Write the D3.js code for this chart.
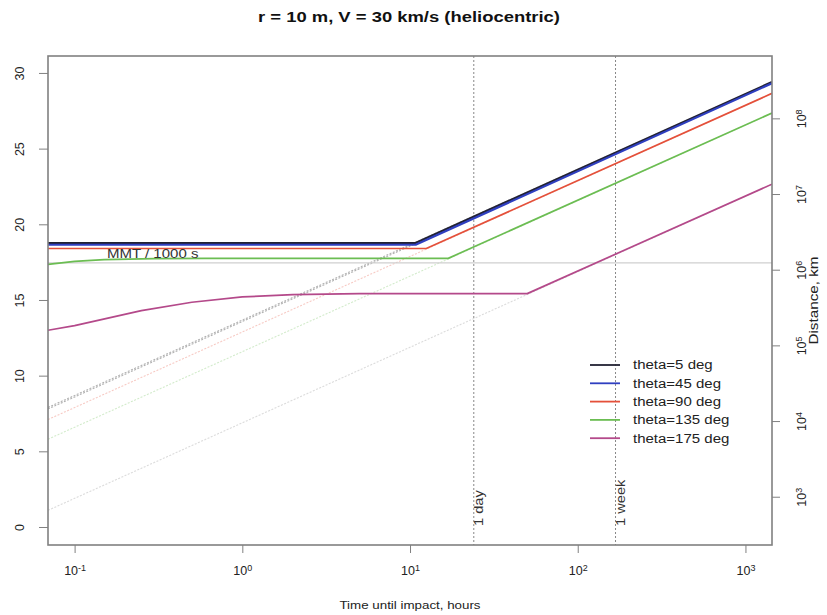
<!DOCTYPE html>
<html>
<head>
<meta charset="utf-8">
<script src="https://cdn.jsdelivr.net/npm/d3@7"></script>
<style>
  body { margin: 0; background: #fff; }
  svg { font-family: "Liberation Sans", Arial, sans-serif; }
</style>
</head>
<body>
<div id="chart"></div>
<script>
//chart values (hours, left axis value)//
var thetaLabels = ["theta=5 deg", "theta=45 deg", "theta=90 deg", "theta=135 deg", "theta=175 deg"];
var theta5 = [[0.0694, 18.75], [10.7, 18.75], [1440, 29.4]];
var theta45 = [[0.0694, 18.65], [10.8, 18.65], [1440, 29.32]];
var theta90 = [[0.0694, 18.4], [12.5, 18.4], [1440, 28.65]];
var theta135 = [[0.0694, 17.35], [0.1, 17.55], [0.15, 17.66], [0.3, 17.73], [0.6, 17.75], [16.9, 17.75], [1440, 27.35]];
var theta175 = [[0.0694, 13.0], [0.1, 13.3], [0.25, 14.3], [0.5, 14.85], [1, 15.2], [2, 15.35], [5, 15.42], [50, 15.42], [1440, 22.65]];
//faint straight-line extrapolations, value at left and right edge//
var farLeft = [7.9, 7.8, 7.1, 5.8, 1.1];
var farRight = [29.4, 29.32, 28.65, 27.35, 22.65];
var xRange = [0.0694, 1440];
var mmtValue = 17.45;
var markerHours = [24, 168];
var markerLabels = ["1 day", "1 week"];
var xTicks = [0.1, 1, 10, 100, 1000];
var yTicks = [0, 5, 10, 15, 20, 25, 30];
var distTicks = [1e3, 1e4, 1e5, 1e6, 1e7, 1e8];
var magOffset = 13; //left value = 5*log10(km) - 13//

var series = [theta5, theta45, theta90, theta135, theta175];
var colors = ["#222233", "#2f3fc0", "#e4503a", "#6bbd52", "#b4498a"];

//svg element parameters//
var w = 827;
var h = 615;
var pLeft = 48, pRight = 772, pTop = 56, pBottom = 545;

//the reference text is a bit wider than the font, so stretch it//
function stretch(sel, k) {
  sel.each(function() {
    var len = this.getComputedTextLength();
    d3.select(this)
      .attr("textLength", len * k)
      .attr("lengthAdjust", "spacingAndGlyphs");
  });
}

var svg = d3.select("#chart")
  .append("svg")
  .attr("width", w)
  .attr("height", h);

var x = d3.scaleLog().domain(xRange).range([pLeft, pRight]);
var yMin = -1.19, yMax = 31.12;
var y = d3.scaleLinear().domain([yMin, yMax]).range([pBottom, pTop]);
var yDist = d3.scaleLog()
  .domain([Math.pow(10, (yMin + magOffset) / 5), Math.pow(10, (yMax + magOffset) / 5)])
  .range([pBottom, pTop]);

var line = d3.line()
  .x(function(d) { return x(d[0]); })
  .y(function(d) { return y(d[1]); });

svg.append("clipPath").attr("id", "clip")
  .append("rect")
  .attr("x", pLeft).attr("y", pTop)
  .attr("width", pRight - pLeft).attr("height", pBottom - pTop);
var plot = svg.append("g").attr("clip-path", "url(#clip)");

//faint extrapolated lines//
plot.selectAll(".far")
  .data(farLeft)
  .enter()
  .append("path")
  .attr("class", "far")
  .attr("d", function(d, i) {
    return line([[xRange[0], d], [xRange[1], farRight[i]]]);
  })
  .attr("fill", "none")
  .attr("stroke", function(d, i) { return i < 2 ? "#555" : (i == 4 ? "#888" : colors[i]); })
  .attr("stroke-opacity", function(d, i) { return i < 2 ? 0.45 : 0.3; })
  .attr("stroke-width", 1.1)
  .attr("stroke-dasharray", "2,1.5");

//MMT horizontal line//
plot.append("line")
  .attr("x1", pLeft).attr("x2", pRight)
  .attr("y1", y(mmtValue)).attr("y2", y(mmtValue))
  .attr("stroke", "#cfcfcf")
  .attr("stroke-width", 1.2);

svg.append("text")
  .attr("x", x(0.156))
  .attr("y", y(mmtValue) - 5)
  .attr("font-size", "12.5px")
  .attr("fill", "#333")
  .text("MMT / 1000 s")
  .call(stretch, 1.2);

//1 day / 1 week markers//
plot.selectAll(".marker")
  .data(markerHours)
  .enter()
  .append("line")
  .attr("class", "marker")
  .attr("x1", function(d) { return x(d); })
  .attr("x2", function(d) { return x(d); })
  .attr("y1", pTop).attr("y2", pBottom)
  .attr("stroke", "#888")
  .attr("stroke-width", 1)
  .attr("stroke-dasharray", "2,2");

svg.selectAll(".markerText")
  .data(markerHours)
  .enter()
  .append("text")
  .attr("class", "markerText")
  .attr("transform", function(d) {
    return "translate(" + (x(d) + 9) + "," + (pBottom - 19) + ") rotate(-90)";
  })
  .attr("font-size", "12px")
  .attr("fill", "#333")
  .text(function(d, i) { return markerLabels[i]; })
  .call(stretch, 1.22);

//main curves//
plot.selectAll(".curve")
  .data(series)
  .enter()
  .append("path")
  .attr("class", "curve")
  .attr("d", line)
  .attr("fill", "none")
  .attr("stroke", function(d, i) { return colors[i]; })
  .attr("stroke-width", function(d, i) { return i < 2 ? 2.2 : 1.7; })
  .attr("stroke-linejoin", "round");

//box//
svg.append("rect")
  .attr("x", pLeft).attr("y", pTop)
  .attr("width", pRight - pLeft).attr("height", pBottom - pTop)
  .attr("fill", "none")
  .attr("stroke", "#808080")
  .attr("stroke-width", 1.6);

//bottom axis with 10^n labels//
var xAxis = svg.append("g")
  .attr("transform", "translate(0," + pBottom + ")")
  .call(d3.axisBottom(x).tickValues(xTicks).tickSize(8).tickFormat(""));
xAxis.select(".domain").remove();
xAxis.selectAll("line").attr("stroke", "#808080");
xAxis.selectAll(".tick").append("text")
  .attr("y", 30)
  .attr("fill", "#222")
  .attr("font-size", "12.5px")
  .attr("text-anchor", "middle")
  .each(function(d) {
    var t = d3.select(this);
    t.append("tspan").text("10");
    t.append("tspan").attr("dy", "-0.5em").attr("font-size", "9px").text(Math.round(Math.log10(d)));
  });

//left axis, labels parallel to axis//
var yAxis = svg.append("g")
  .attr("transform", "translate(" + pLeft + ",0)")
  .call(d3.axisLeft(y).tickValues(yTicks).tickSize(9));
yAxis.select(".domain").remove();
yAxis.selectAll("line").attr("stroke", "#808080");
yAxis.selectAll("text")
  .attr("x", 0)
  .attr("dy", "0.35em")
  .attr("transform", "translate(-28,0) rotate(-90)")
  .attr("text-anchor", "middle")
  .attr("font-size", "12.5px")
  .attr("fill", "#222");

//right distance axis//
var rAxis = svg.append("g")
  .attr("transform", "translate(" + pRight + ",0)")
  .call(d3.axisRight(yDist).tickValues(distTicks).tickSize(8).tickFormat(""));
rAxis.select(".domain").remove();
rAxis.selectAll("line").attr("stroke", "#808080");
rAxis.selectAll(".tick").append("text")
  .attr("transform", "translate(30,0) rotate(-90)")
  .attr("text-anchor", "middle")
  .attr("dy", "0.35em")
  .attr("fill", "#222")
  .attr("font-size", "12.5px")
  .each(function(d) {
    var t = d3.select(this);
    t.append("tspan").text("10");
    t.append("tspan").attr("dy", "-0.5em").attr("font-size", "9px").text(Math.round(Math.log10(d)));
  });

svg.append("text")
  .attr("transform", "translate(818," + ((pTop + pBottom) / 2) + ") rotate(-90)")
  .attr("text-anchor", "middle")
  .attr("font-size", "12.5px")
  .attr("fill", "#222")
  .text("Distance, km")
  .call(stretch, 1.22);

//titles//
svg.append("text")
  .attr("x", 409).attr("y", 22)
  .attr("text-anchor", "middle")
  .attr("font-size", "14.5px")
  .attr("font-weight", "bold")
  .attr("fill", "#111")
  .text("r = 10 m, V = 30 km/s (heliocentric)")
  .call(stretch, 1.27);

svg.append("text")
  .attr("x", 410).attr("y", 609)
  .attr("text-anchor", "middle")
  .attr("font-size", "11.5px")
  .attr("fill", "#222")
  .text("Time until impact, hours")
  .call(stretch, 1.16);

//legend//
var legend = svg.selectAll(".legend")
  .data(thetaLabels)
  .enter()
  .append("g")
  .attr("class", "legend")
  .attr("transform", function(d, i) { return "translate(590," + (365 + i * 18.3) + ")"; });

legend.append("line")
  .attr("x1", 0).attr("x2", 30)
  .attr("stroke", function(d, i) { return colors[i]; })
  .attr("stroke-width", 1.8);

legend.append("text")
  .attr("x", 43)
  .attr("dy", "0.35em")
  .attr("font-size", "12.5px")
  .attr("fill", "#222")
  .text(function(d) { return d; })
  .call(stretch, 1.2);
</script>
</body>
</html>
